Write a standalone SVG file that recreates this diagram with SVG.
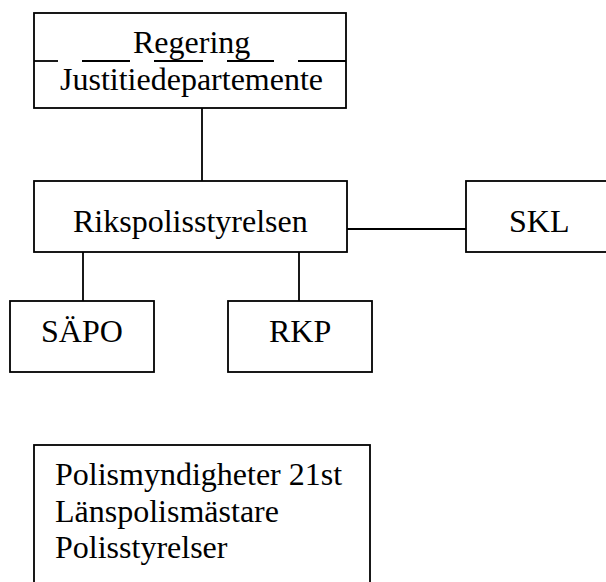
<svg xmlns="http://www.w3.org/2000/svg" width="606" height="582" viewBox="0 0 606 582">
<style>
.box{fill:#fff;stroke:#000;stroke-width:1.8}
.ln{stroke:#000;stroke-width:1.8;fill:none}
text{font-family:"Liberation Serif","Times New Roman",serif;font-size:32px;fill:#000}
</style>
<rect width="606" height="582" fill="#fff"/>
<g id="connectors">
<line class="ln" x1="202" y1="108" x2="202" y2="181"/>
<line class="ln" x1="347" y1="229" x2="466" y2="229"/>
<line class="ln" x1="83" y1="252" x2="83" y2="301"/>
<line class="ln" x1="299" y1="252" x2="299" y2="301"/>
</g>
<g id="regering">
<rect class="box" x="34" y="13" width="312" height="95"/>
<text x="133" y="53">Regering</text>
<g class="ln">
<line x1="34" y1="61" x2="58" y2="61"/>
<line x1="82" y1="61" x2="130" y2="61"/>
<line x1="154" y1="61" x2="203" y2="61"/>
<line x1="227" y1="61" x2="274" y2="61"/>
<line x1="298" y1="61" x2="346" y2="61"/>
</g>
<text x="60" y="90">Justitiedepartemente</text>
</g>
<g id="rikspolisstyrelsen">
<rect class="box" x="34" y="181" width="313" height="71"/>
<text x="73" y="232">Rikspolisstyrelsen</text>
</g>
<g id="skl">
<rect class="box" x="466" y="181" width="150" height="71"/>
<text x="509" y="232">SKL</text>
</g>
<g id="sapo">
<rect class="box" x="10" y="301" width="144" height="71"/>
<text x="41" y="342">SÄPO</text>
</g>
<g id="rkp">
<rect class="box" x="228" y="301" width="144" height="71"/>
<text x="269" y="342">RKP</text>
</g>
<g id="polismyndigheter">
<rect class="box" x="34" y="445" width="336" height="150"/>
<text x="55" y="485">Polismyndigheter 21st</text>
<text x="55" y="521.7">Länspolismästare</text>
<text x="55" y="558">Polisstyrelser</text>
</g>
</svg>
